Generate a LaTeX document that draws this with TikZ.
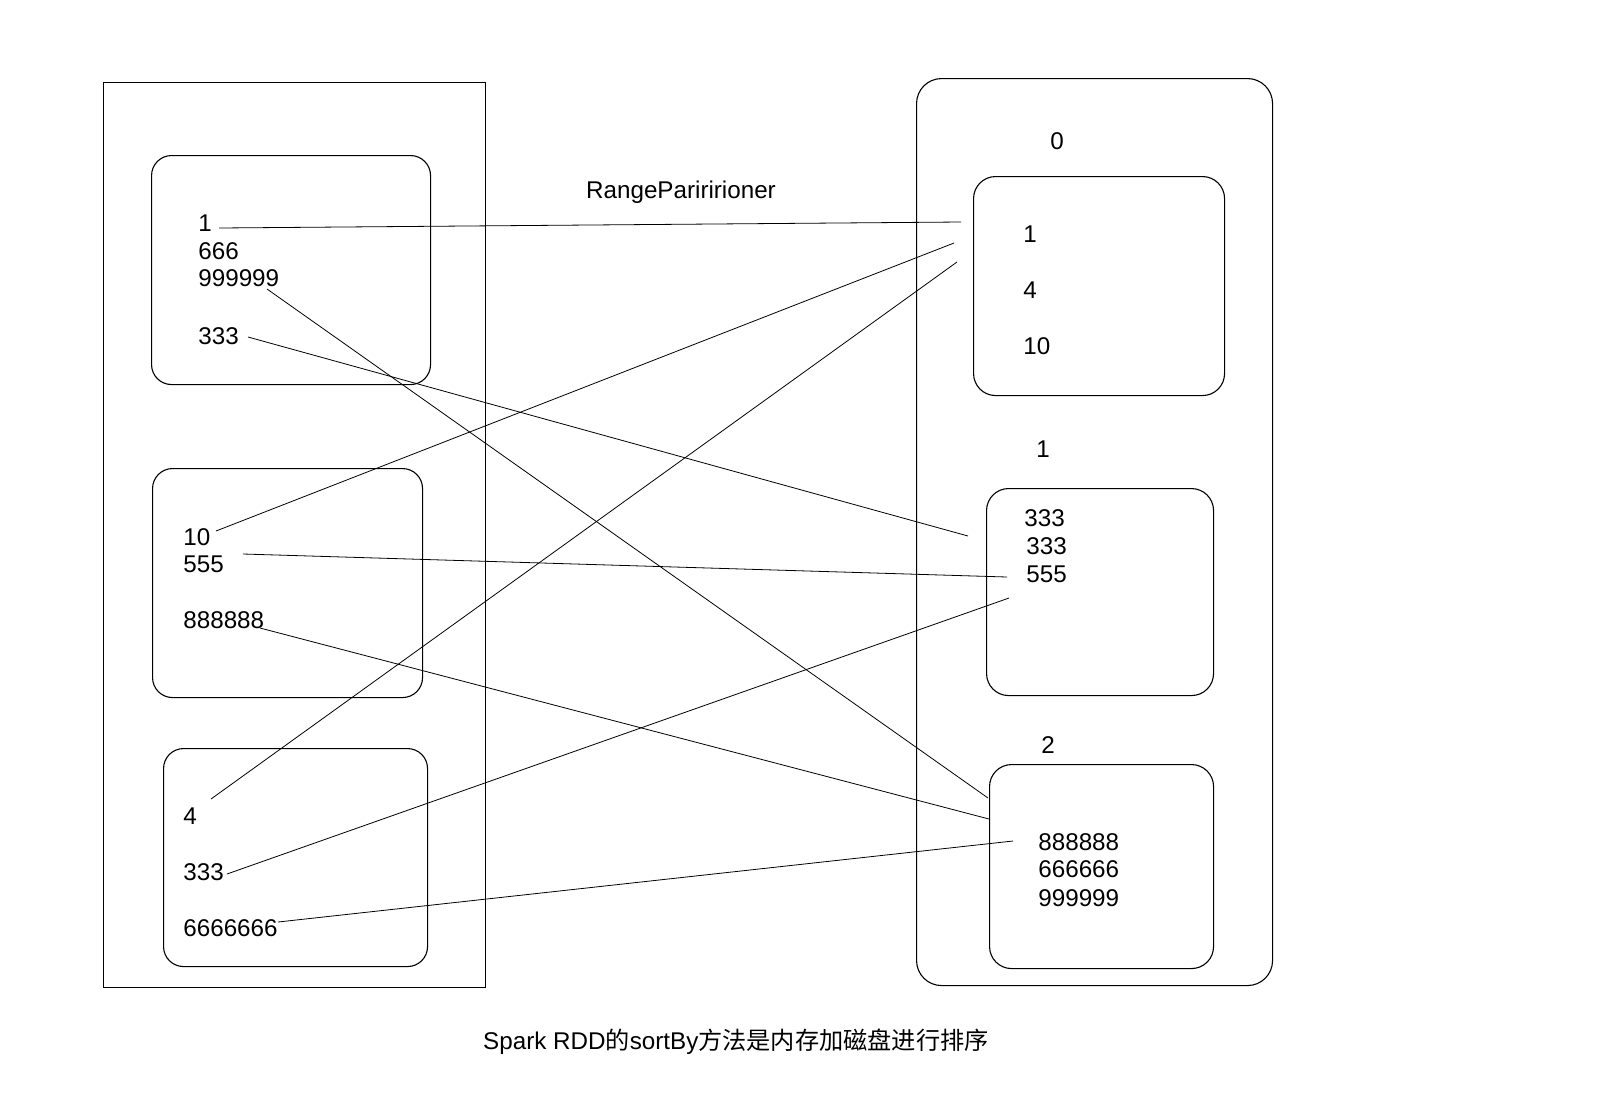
\documentclass[tikz,border=0pt]{standalone}
\usepackage{fontspec}
\setmainfont{Liberation Sans}
\newfontfamily\cjk{Noto Sans CJK SC}
\begin{document}
\begin{tikzpicture}[x=0.5pt,y=-0.5pt,
  txt/.style={inner sep=0pt, anchor=west, font=\fontsize{12.1}{14}\selectfont},
  lbl/.style={inner sep=0pt, font=\fontsize{12.1}{14}\selectfont},
  box/.style={draw, line width=0.55pt, inner sep=0pt, anchor=north west},
  rbox/.style={box, rounded corners=10pt},
  conn/.style={line width=0.4pt}]
\useasboundingbox (0,0) rectangle (1600,1104);
\fill[white] (0,0) rectangle (1600,1104);

% containers
\node[box, minimum width=191pt, minimum height=452.5pt] (L) at (103,82) {};
\node[rbox, rounded corners=12.5pt, minimum width=178pt, minimum height=453.5pt] (R) at (916,78) {};

% left boxes
\node[rbox, minimum width=139.5pt, minimum height=114.5pt] (lb1) at (151,155) {};
\node[rbox, minimum width=135pt, minimum height=114.5pt] (lb2) at (152,468) {};
\node[rbox, minimum width=132pt, minimum height=109pt] (lb3) at (163,748) {};

% right boxes
\node[rbox, rounded corners=11pt, minimum width=125.5pt, minimum height=109.5pt] (rb0) at (973,176) {};
\node[rbox, rounded corners=11pt, minimum width=113.5pt, minimum height=103.5pt] (rb1) at (986,488) {};
\node[rbox, rounded corners=11pt, minimum width=112pt, minimum height=102pt] (rb2) at (989,764) {};

% left texts
\node[txt] (a1) at (198,223.4) {1};
\node[txt] (a2) at (198,251) {666};
\node[txt] (a3) at (198,278.6) {999999};
\node[txt] (a4) at (198,335.7) {333};

\node[txt] (b1) at (183,536.7) {10};
\node[txt] (b2) at (183,564.3) {555};
\node[txt] (b3) at (183,620.4) {888888};

\node[txt] (c1) at (183,816.3) {4};
\node[txt] (c2) at (183,872.4) {333};
\node[txt] (c3) at (183,928.6) {6666666};

% right labels
\node[lbl] (p0) at (1057,140.8) {0};
\node[lbl] (p1) at (1043,449) {1};
\node[lbl] (p2) at (1048,744.9) {2};

% right texts
\node[txt] (r01) at (1023,233.7) {1};
\node[txt] (r02) at (1023,289.8) {4};
\node[txt] (r03) at (1023,345.9) {10};

\node[txt] (r11) at (1024,518.3) {333};
\node[txt] (r12) at (1026,545.9) {333};
\node[txt] (r13) at (1026,574.5) {555};

\node[txt] (r21) at (1038,841.8) {888888};
\node[txt] (r22) at (1038,869.4) {666666};
\node[txt] (r23) at (1038,898) {999999};

% titles
\node[lbl, anchor=base] (title) at (681,198) {RangePariririoner};
\node[lbl, anchor=base] (caption) at (736,1049) {Spark RDD{\cjk 的}sortBy{\cjk 方法是内存加磁盘进行排序}};

% connector end points
\coordinate (s1) at (219,228);  \coordinate (e1) at (961,222);
\coordinate (s2) at (267,289);  \coordinate (e2) at (988,798);
\coordinate (s3) at (248,337);  \coordinate (e3) at (968,536);
\coordinate (s4) at (216,531);  \coordinate (e4) at (954,243);
\coordinate (s5) at (243,554);  \coordinate (e5) at (1007,577);
\coordinate (s6) at (260,628);  \coordinate (e6) at (989,819);
\coordinate (s7) at (211,799);  \coordinate (e7) at (957,262);
\coordinate (s8) at (227,874);  \coordinate (e8) at (1009,598);
\coordinate (s9) at (278,922);  \coordinate (e9) at (1013,841);

\draw[conn] (s1) -- (e1);
\draw[conn] (s2) -- (e2);
\draw[conn] (s3) -- (e3);
\draw[conn] (s4) -- (e4);
\draw[conn] (s5) -- (e5);
\draw[conn] (s6) -- (e6);
\draw[conn] (s7) -- (e7);
\draw[conn] (s8) -- (e8);
\draw[conn] (s9) -- (e9);
\end{tikzpicture}
\end{document}
